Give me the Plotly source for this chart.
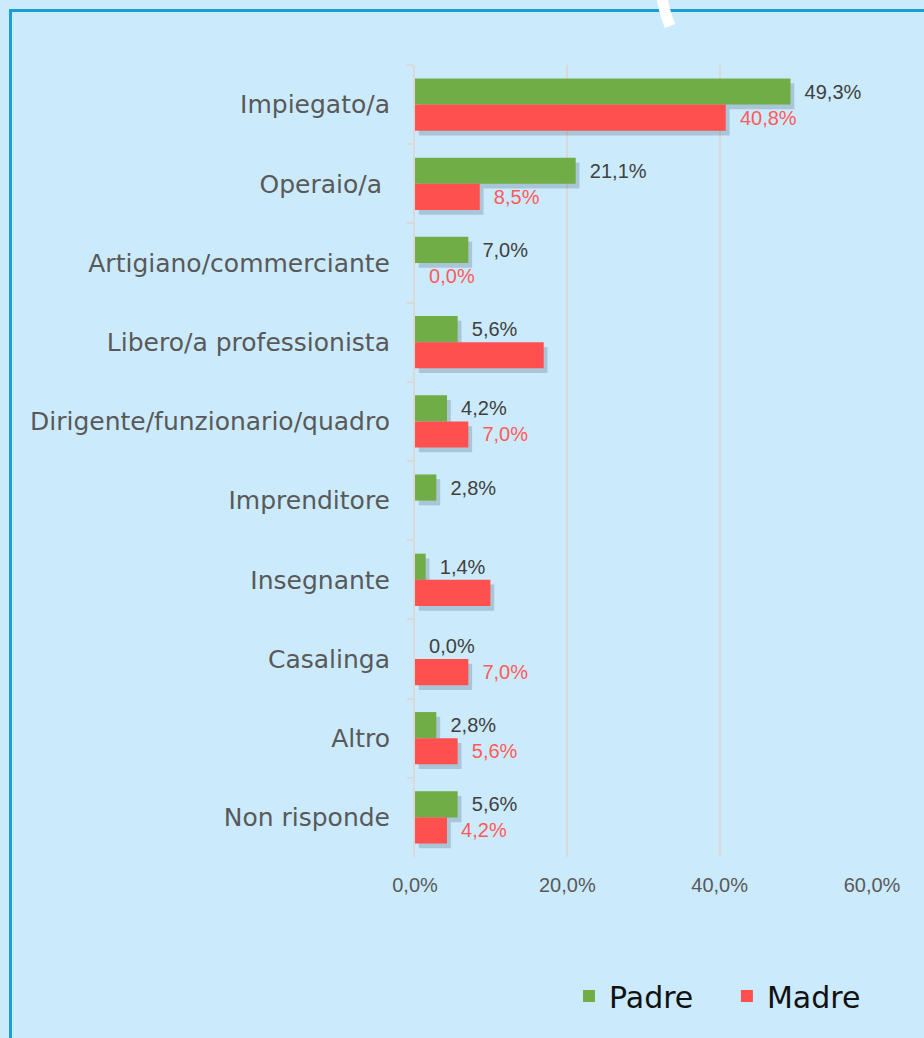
import plotly.graph_objects as go

# categories top to bottom
categorie = ["Impiegato/a", "Operaio/a\u00a0", "Artigiano/commerciante", "Libero/a professionista",
             "Dirigente/funzionario/quadro", "Imprenditore", "Insegnante", "Casalinga",
             "Altro", "Non risponde"]
padre = [49.3, 21.1, 7.0, 5.6, 4.2, 2.8, 1.4, 0.0, 2.8, 5.6]
madre = [40.8, 8.5, 0.0, 16.9, 7.0, 0.0, 9.9, 7.0, 5.6, 4.2]
# some labels are not printed in the original
madre_senza_etichetta = ["Libero/a professionista", "Imprenditore", "Insegnante"]

x_ticks = [0, 20, 40, 60]
x_ticktext = ["0,0%", "20,0%", "40,0%", "60,0%"]

VERDE = "#70AD47"
ROSSO = "#FF5050"
SFONDO = "#CBEBFD"
GRIGIO = "#D9D9D9"
OMBRA = "rgba(30,50,70,0.2)"


def fmt(v):
    return "\u00a0\u00a0" + f"{v:.1f}".replace(".", ",") + "%"


padre_text = [fmt(v) for v in padre]
madre_text = ["" if c in madre_senza_etichetta else fmt(v) for c, v in zip(categorie, madre)]

# plot area in pixels, used to place decorations in paper coords
L, R, T, B = 415, 872, 65, 857
W, H = 924, 1038


def px(x):
    return (x - L) / (R - L)


def py(y):
    return (B - y) / (B - T)


spessore = 0.33  # bar thickness, category units

fig = go.Figure()
# soft drop shadows first so the bars sit on top
for vals, off in [(padre, -spessore), (madre, 0)]:
    fig.add_trace(go.Bar(y=categorie, x=vals, base=0.5, orientation="h",
                         width=spessore, offset=off + 0.06, marker_color=OMBRA,
                         marker_line_width=0, showlegend=False, hoverinfo="skip"))

fig.add_trace(go.Bar(y=categorie, x=padre, name="Padre\u00a0\u00a0\u00a0", orientation="h",
                     width=spessore, offset=-spessore,
                     marker_color=VERDE, marker_line_width=0,
                     text=padre_text, textposition="outside",
                     textfont=dict(color="#404040", size=20, family="Liberation Sans"),
                     cliponaxis=False, constraintext="none"))
fig.add_trace(go.Bar(y=categorie, x=madre, name="Madre", orientation="h",
                     width=spessore, offset=0,
                     marker_color=ROSSO, marker_line_width=0,
                     text=madre_text, textposition="outside",
                     textfont=dict(color="#FF5A5A", size=20, family="Liberation Sans"),
                     cliponaxis=False, constraintext="none"))

fig.update_layout(
    width=W, height=H,
    margin=dict(l=L, r=W - R, t=T, b=H - B, pad=0),
    paper_bgcolor=SFONDO, plot_bgcolor=SFONDO,
    barmode="overlay",
    showlegend=True,
    legend=dict(orientation="h", x=px(866), xanchor="right", y=py(996), yanchor="middle",
                font=dict(family="DejaVu Sans", size=30, color="#111111"),
                bgcolor="rgba(0,0,0,0)", itemwidth=30, traceorder="normal"),
    shapes=[
        # outer frame, runs off the right and bottom edge
        dict(type="rect", xref="paper", yref="paper", x0=px(10.5), y0=py(10.5),
             x1=px(940), y1=py(1060), line=dict(color="#1A9FD0", width=3), layer="below"),
        # white stroke at top
        dict(type="path", xref="paper", yref="paper",
             path=f"M {px(662)},{py(-2)} Q {px(665)},{py(14)} {px(670)},{py(26)}",
             line=dict(color="white", width=11)),
    ],
)

fig.update_xaxes(range=[0, 60], tickvals=x_ticks, ticktext=x_ticktext,
                 showgrid=True, gridcolor=GRIGIO, gridwidth=2, zeroline=False,
                 showline=False, ticks="", ticklabelstandoff=14,
                 tickfont=dict(family="Liberation Sans", size=20, color="#595959"))
fig.update_yaxes(autorange="reversed", showline=True, linecolor=GRIGIO, linewidth=2,
                 ticks="outside", tickson="boundaries", ticklen=6, tickcolor=GRIGIO, tickwidth=2,
                 showgrid=False, ticklabelstandoff=18,
                 tickfont=dict(family="DejaVu Sans", size=25, color="#595959"))

# drop the default page margin so the figure sits at the window corner
fig.write_html("out.html", config={"displayModeBar": False},
               post_script="document.body.style.margin='0';"
                           "document.body.style.background='" + SFONDO + "';")
